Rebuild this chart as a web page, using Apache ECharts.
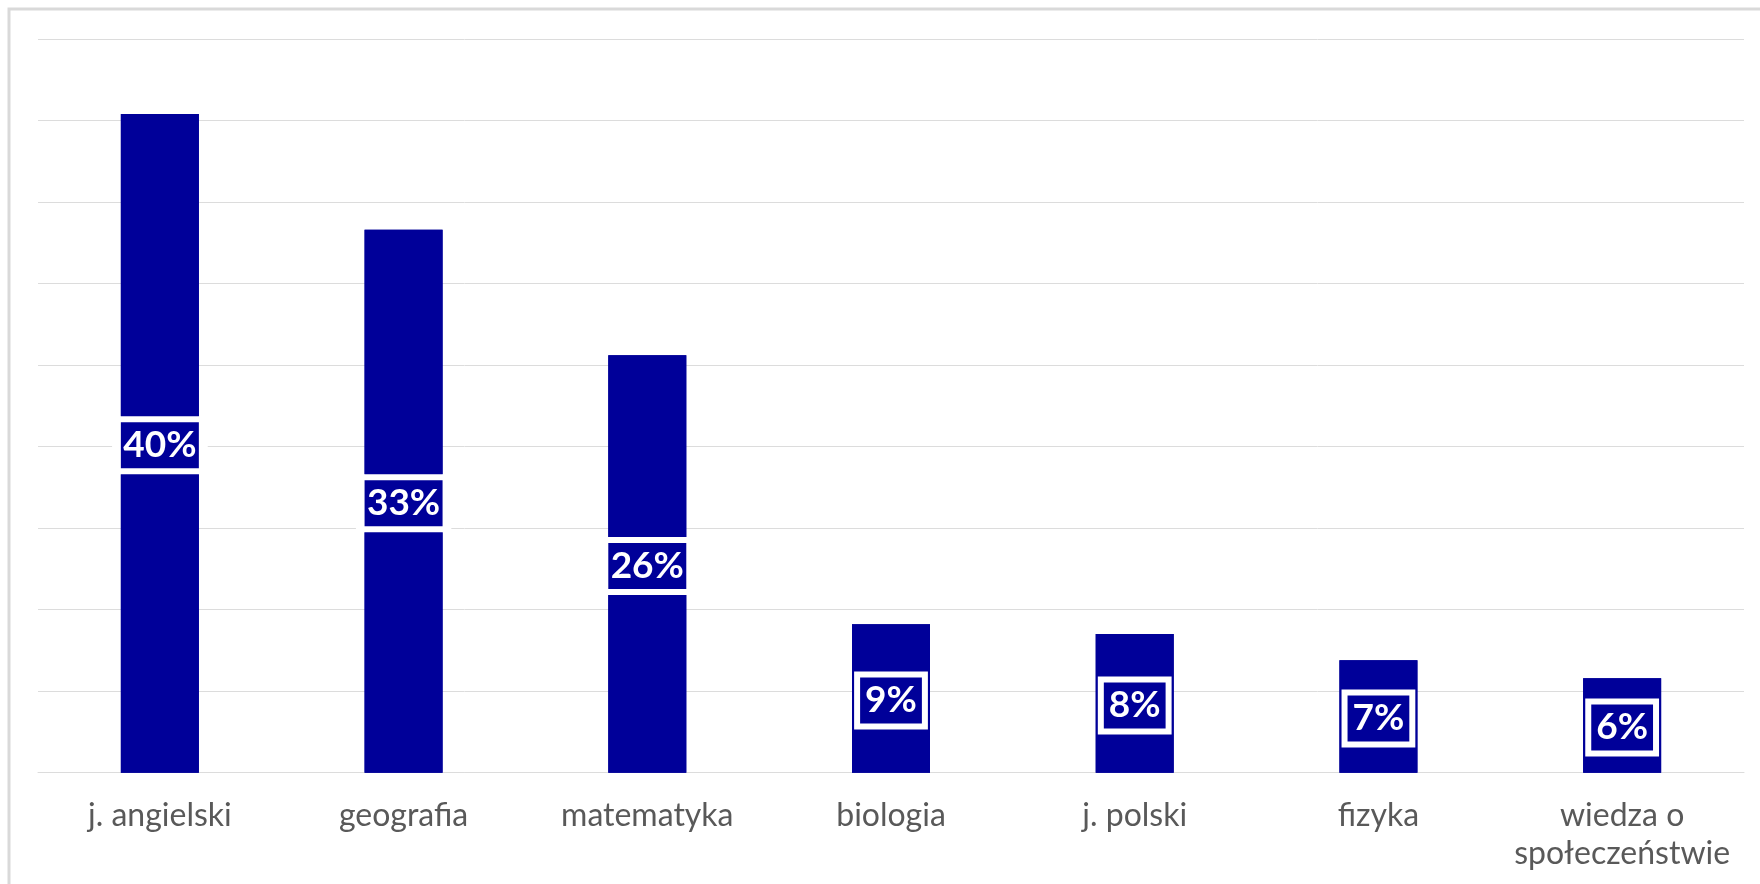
<!DOCTYPE html>
<html>
<head>
<meta charset="utf-8">
<script src="https://cdn.jsdelivr.net/npm/echarts@6/dist/echarts.min.js"></script>
<style>
  html, body { margin: 0; padding: 0; background: #fff; }
  #chart { width: 1760px; height: 884px; }
</style>
</head>
<body>
<div id="chart"></div>
<script>
const categories = ['j. angielski', 'geografia', 'matematyka', 'biologia', 'j. polski', 'fizyka', 'wiedza o\nspołeczeństwie'];
const values = [40.4, 33.3, 25.6, 9.1, 8.5, 6.9, 5.8];
const labels = ['40%', '33%', '26%', '9%', '8%', '7%', '6%'];

const barColor = '#000099';
const chart = echarts.init(document.getElementById('chart'));

const labelBase = {
  show: true,
  position: 'inside',
  offset: [0, 2],
  fontFamily: 'Lato',
  fontWeight: 'bold',
  fontSize: 37,
  lineHeight: 38,
  padding: [10, 8, 4, 8],
  borderWidth: 3,
  borderColor: '#ffffff',
  formatter: (p) => labels[p.dataIndex]
};

chart.setOption({
  animation: false,
  graphic: [{
    type: 'rect',
    silent: true,
    z: -10,
    shape: { x: 9, y: 9, width: 1800, height: 900 },
    style: { fill: 'none', stroke: '#d9d9d9', lineWidth: 3 }
  }],
  grid: { left: 38, right: 16, top: 39, bottom: 111.3, containLabel: false },
  xAxis: {
    type: 'category',
    data: categories,
    axisLine: { show: true, lineStyle: { color: '#dcdcdc', width: 1 } },
    axisTick: { show: false },
    axisLabel: {
      color: '#595959',
      fontFamily: 'Lato',
      fontSize: 32,
      lineHeight: 38,
      margin: 24,
      interval: 0
    }
  },
  yAxis: {
    type: 'value',
    min: 0,
    max: 45,
    interval: 5,
    axisLabel: { show: false },
    axisLine: { show: false },
    axisTick: { show: false },
    splitLine: { show: true, lineStyle: { color: '#dcdcdc', width: 1 } }
  },
  series: [
    {
      type: 'bar',
      z: 1,
      data: values,
      barWidth: 78,
      itemStyle: { color: barColor },
      label: Object.assign({}, labelBase, { color: 'rgba(0,0,0,0)', backgroundColor: '#ffffff' })
    },
    {
      type: 'bar',
      z: 5,
      data: values,
      barWidth: 78,
      barGap: '-100%',
      itemStyle: { color: barColor },
      label: Object.assign({}, labelBase, { color: '#ffffff', backgroundColor: 'transparent' })
    }
  ]
});
</script>
</body>
</html>
